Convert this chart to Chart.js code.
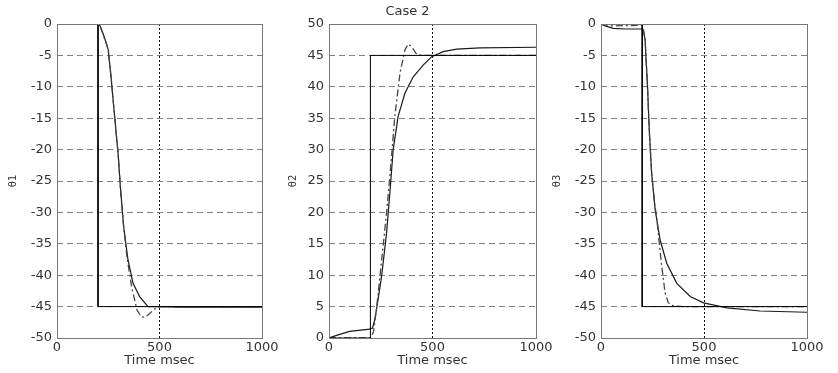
<!DOCTYPE html>
<html><head><meta charset="utf-8">
<script src="https://cdn.jsdelivr.net/npm/chart.js@4/dist/chart.umd.min.js"></script>
<style>
html,body{margin:0;padding:0;background:#fff;}
#wrap{position:relative;width:838px;height:373px;overflow:hidden;}
canvas{position:absolute;left:0;top:0;}
</style>
</head><body>
<div id="wrap">
<canvas id="c1" width="838" height="373"></canvas>
<canvas id="c2" width="838" height="373"></canvas>
<canvas id="c3" width="838" height="373"></canvas>
</div>
<script>
// ---- data ----
const xTickValues = [0, 500, 1000];
const xTickLabels = ['0', '500', '1000'];
const yTicks1 = [0, -5, -10, -15, -20, -25, -30, -35, -40, -45, -50];
const yTicks2 = [50, 45, 40, 35, 30, 25, 20, 15, 10, 5, 0];
const yTicks3 = [0, -5, -10, -15, -20, -25, -30, -35, -40, -45, -50];
const chartTitle = 'Case 2';
const xLabel = 'Time msec';
const yLabels = ['θ1', 'θ2', 'θ3'];

// reference steps
const refT = [0, 200, 200, 1000];
const ref1 = [0, 0, -45, -45];
const ref2 = [0, 0, 45, 45];
const ref3 = [0, 0, -45, -45];

// panel 1 responses
const solidT1 = [0, 100, 200, 210, 230, 250, 265, 281, 298, 309, 325, 346, 371, 403, 444, 500, 600, 800, 1000];
const solid1  = [0, 0, 0, -0.3, -2, -4.1, -8.9, -14.7, -20.6, -25.9, -32.2, -37.5, -41.3, -43.4, -45, -45, -45.1, -45.1, -45.1];
const dashT1  = [0, 200, 210, 250, 265, 281, 298, 309, 325, 343, 365, 390, 410, 430, 455, 480, 500, 600, 1000];
const dash1   = [0, 0, -0.3, -4, -8.9, -14.7, -20.6, -26, -32.2, -37.5, -42, -45.5, -46.6, -46.7, -46, -45.3, -45, -45, -45];

// panel 2 responses
const solidT2 = [0, 44, 100, 197, 210, 221, 237, 254, 278, 294, 310, 334, 367, 407, 456, 496, 552, 617, 730, 1000];
const solid2  = [0, 0.5, 1.06, 1.4, 1.6, 2.9, 6.1, 9.8, 16.7, 23.1, 30, 35.3, 39, 41.6, 43.5, 44.8, 45.6, 46, 46.2, 46.3];
const dashT2  = [0, 200, 215, 229, 250, 278, 300, 318, 343, 367, 383, 399, 423, 450, 500, 1000];
const dash2   = [0, 0, 1, 4.5, 11, 19.9, 28, 35.3, 42.2, 45.9, 46.8, 46.4, 45.2, 45, 45, 45];

// panel 3 responses
const solidT3 = [0, 20, 60, 120, 200, 206, 214, 225, 235, 246, 263, 287, 319, 368, 433, 498, 611, 773, 1000];
const solid3  = [0, -0.3, -0.7, -0.8, -0.8, -1, -2.5, -9.4, -17.4, -23.8, -29.6, -34.4, -38.1, -41.3, -43.4, -44.4, -45.2, -45.7, -45.9];
const dashT3  = [0, 60, 200, 206, 214, 225, 235, 246, 260, 271, 283, 295, 311, 327, 352, 400, 500, 1000];
const dash3   = [0, -0.3, -0.2, -1, -2.5, -9.4, -17.4, -23.8, -28.5, -31, -35, -38.6, -42.8, -44.4, -44.9, -45, -45, -45];

// ---- helpers ----
const pts = (t, v) => t.map((x, i) => ({x: x, y: v[i]}));
const FONT = 'DejaVu Sans';

const framePlugin = {
  id: 'frame',
  afterDatasetsDraw(chart) {
    const a = chart.chartArea, ctx = chart.ctx;
    ctx.save();
    ctx.strokeStyle = '#777';
    ctx.lineWidth = 1;
    ctx.strokeRect(Math.round(a.left) + 0.5, Math.round(a.top) + 0.5, Math.round(a.right - a.left), Math.round(a.bottom - a.top));
    ctx.restore();
  }
};

function makePanel(id, cfg) {
  const datasets = [
    {data: pts(refT, cfg.ref), borderColor: '#000', borderWidth: 1},
    {data: pts(cfg.dashT, cfg.dash), borderColor: '#444', borderWidth: 1.3, borderDash: [7, 3, 2, 3]},
    {data: pts(cfg.solidT, cfg.solid), borderColor: '#1a1a1a', borderWidth: 1.2}
  ].map(d => Object.assign({pointRadius: 0, tension: 0, fill: false}, d));

  new Chart(document.getElementById(id), {
    type: 'line',
    data: {datasets},
    options: {
      responsive: false,
      animation: false,
      devicePixelRatio: 1,
      events: [],
      layout: {padding: {left: cfg.padL, right: cfg.padR, top: cfg.title ? 0 : 24, bottom: 0}},
      plugins: {
        legend: {display: false},
        tooltip: {enabled: false},
        title: {
          display: !!cfg.title,
          text: cfg.title || '',
          color: '#333',
          font: {family: FONT, size: 13, weight: 'normal'},
          padding: {top: 4, bottom: 4.4}
        }
      },
      scales: {
        x: {
          type: 'linear', min: 0, max: 1000,
          afterBuildTicks: s => { s.ticks = xTickValues.map(v => ({value: v})); },
          afterFit: s => { s.height = 35; },
          ticks: {color: '#333', font: {family: FONT, size: 13}, padding: 2, maxRotation: 0, autoSkip: false,
                  callback: v => xTickLabels[xTickValues.indexOf(v)]},
          grid: {
            drawTicks: false,
            color: c => (c.tick && c.tick.value === 500) ? '#111' : 'rgba(0,0,0,0)',
            lineWidth: 1
          },
          border: {display: false, dash: [2, 2]},
          title: {display: true, text: xLabel, color: '#333', font: {family: FONT, size: 13}, padding: {top: 0, bottom: 5}}
        },
        y: {
          type: 'linear', min: cfg.ymin, max: cfg.ymax,
          afterBuildTicks: s => { s.ticks = cfg.yTicks.map(v => ({value: v})); },
          afterFit: s => { s.width = 50; },
          ticks: {color: '#333', font: {family: FONT, size: 13}, padding: 5, autoSkip: false, callback: v => String(v)},
          grid: {drawTicks: false, color: '#808080', lineWidth: 1},
          border: {display: false, dash: [6, 4]},
          title: {display: true, text: cfg.ylabel, color: '#333', font: {family: FONT, size: 10}, padding: {top: cfg.ylabPad, bottom: 0}}
        }
      }
    },
    plugins: [framePlugin]
  });
}

makePanel('c1', {ref: ref1, solidT: solidT1, solid: solid1, dashT: dashT1, dash: dash1,
  ymin: -50, ymax: 0, yTicks: yTicks1, ylabel: yLabels[0], ylabPad: 0, padL: 7, padR: 576});
makePanel('c2', {ref: ref2, solidT: solidT2, solid: solid2, dashT: dashT2, dash: dash2,
  ymin: 0, ymax: 50, yTicks: yTicks2, ylabel: yLabels[1], ylabPad: 8, padL: 279, padR: 302, title: chartTitle});
makePanel('c3', {ref: ref3, solidT: solidT3, solid: solid3, dashT: dashT3, dash: dash3,
  ymin: -50, ymax: 0, yTicks: yTicks3, ylabel: yLabels[2], ylabPad: 0, padL: 551, padR: 31});
</script>
</body></html>
